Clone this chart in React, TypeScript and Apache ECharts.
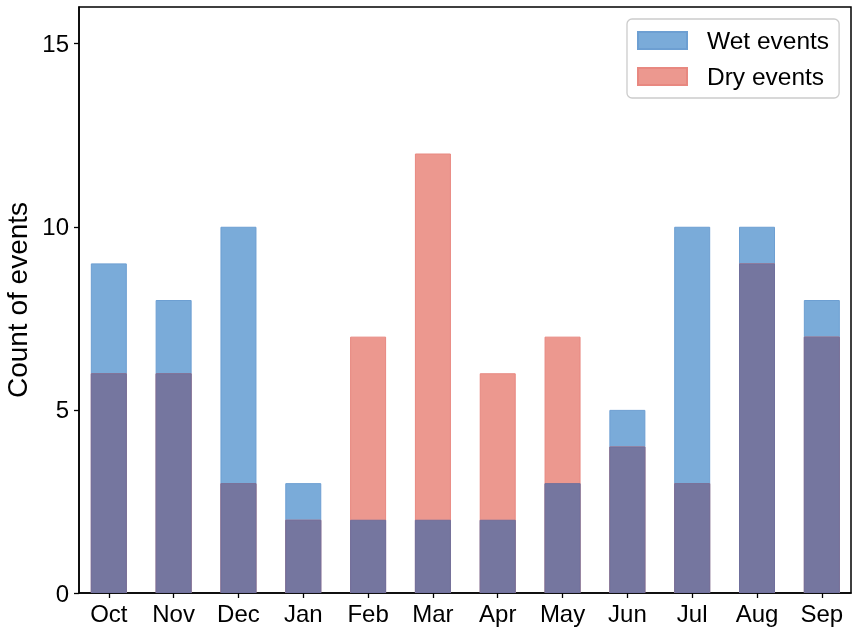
import React, { useEffect, useRef } from "react";
import * as echarts from "echarts";

const months = ["Oct", "Nov", "Dec", "Jan", "Feb", "Mar", "Apr", "May", "Jun", "Jul", "Aug", "Sep"];
const wetEvents = [9, 8, 10, 3, 2, 2, 2, 3, 5, 10, 10, 8];
const dryEvents = [6, 6, 3, 2, 7, 12, 6, 7, 4, 3, 9, 7];
const yTicks = [0, 5, 10, 15];

const FONT = 'Arial, "Liberation Sans", Helvetica, sans-serif';

export default function App() {
  const ref = useRef<HTMLDivElement>(null);
  useEffect(() => {
    if (!ref.current) return;
    const chart = echarts.init(ref.current, undefined, { renderer: "svg" });
    const idx = months.map((_, i) => i);
    const overlap = wetEvents.map((w, i) => Math.min(w, dryEvents[i]));
    const barBase = { type: "bar", barWidth: 36, barGap: "-100%" };
    chart.setOption({
      animation: false,
      textStyle: { fontFamily: FONT },
      grid: {
        left: 79,
        right: 6,
        top: 7,
        bottom: 41,
        containLabel: false,
        outerBoundsMode: "none",
        show: true,
        borderColor: "#000",
        borderWidth: 1.5,
        backgroundColor: "transparent",
      },
      legend: {
        data: ["Wet events", "Dry events"],
        orient: "vertical",
        left: 627,
        top: 19,
        padding: [8, 10, 8, 10],
        itemWidth: 49,
        itemHeight: 17,
        itemGap: 9,
        borderColor: "#cccccc",
        borderWidth: 1.3,
        borderRadius: 5,
        backgroundColor: "rgba(255,255,255,0.8)",
        textStyle: { fontSize: 24.5, fontFamily: FONT, color: "#000", padding: [0, 0, 0, 15], lineHeight: 27 },
        icon: "rect",
        selectedMode: false,
      },
      xAxis: {
        type: "value",
        min: -0.46,
        max: 11.45,
        splitLine: { show: false },
        axisLine: { show: true, onZero: false, lineStyle: { color: "#000", width: 1.5 } },
        axisTick: { show: true, length: 5, lineStyle: { color: "#000", width: 1.3 }, customValues: idx },
        axisLabel: {
          customValues: idx,
          formatter: (v: number) => months[Math.round(v)] ?? "",
          fontSize: 24,
          color: "#000",
          fontFamily: FONT,
          margin: 8,
        },
      },
      yAxis: {
        type: "value",
        min: 0,
        max: 16,
        name: "Count of events",
        nameLocation: "middle",
        nameRotate: 90,
        nameGap: 48,
        nameTextStyle: { fontSize: 28, color: "#000", fontFamily: FONT },
        splitLine: { show: false },
        axisLine: { show: true, onZero: false, lineStyle: { color: "#000", width: 1.5 } },
        axisTick: { show: true, length: 5, lineStyle: { color: "#000", width: 1.3 }, customValues: yTicks },
        axisLabel: { customValues: yTicks, fontSize: 24, color: "#000", fontFamily: FONT, margin: 10 },
      },
      series: [
        {
          ...barBase,
          name: "Wet events",
          data: wetEvents.map((v, i) => [i, v]),
          itemStyle: { color: "#7aabd9", borderColor: "#6d9fd2", borderWidth: 1 },
        },
        {
          ...barBase,
          name: "Dry events",
          data: dryEvents.map((v, i) => [i, v]),
          itemStyle: { color: "#ec988f", borderColor: "#e88880", borderWidth: 1 },
        },
        {
          ...barBase,
          name: "Both",
          data: overlap.map((v, i) => [i, v]),
          itemStyle: { color: "#75769f", borderColor: "#6f6f9c", borderWidth: 1 },
        },
      ],
    });
    return () => chart.dispose();
  }, []);
  return <div ref={ref} style={{ position: "fixed", left: 0, top: 0, width: 857, height: 634 }} />;
}
